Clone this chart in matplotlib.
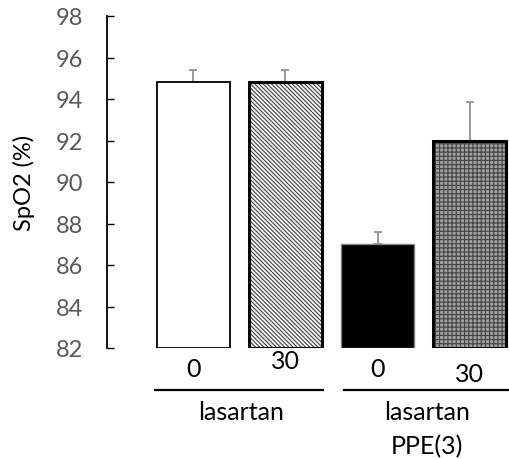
import matplotlib
matplotlib.use("Agg")
import matplotlib.pyplot as plt
import matplotlib.transforms as mtransforms

# data
doses = ["0", "30", "0", "30"]
spo2 = [94.8, 94.8, 87.0, 92.0]
spo2_err = [0.6, 0.6, 0.6, 1.85]
groups = ["lasartan", "lasartan\nPPE(3)"]
y_ticks = [82, 84, 86, 88, 90, 92, 94, 96, 98]

plt.rcParams["font.family"] = ["Lato", "DejaVu Sans"]
plt.rcParams["hatch.linewidth"] = 0.8

fig = plt.figure(figsize=(5.1, 4.6), dpi=100)
ax = fig.add_axes([107 / 510, 1 - 349 / 460, 403 / 510, 332 / 460])

x = list(range(len(spo2)))
w = 0.79
heights = [v - 82 for v in spo2]

# fills
faces = ["white", "#f4f4f4", "black", "#a0a0a0"]
hatches = [None, "\\\\\\\\\\\\\\\\", None, "++++"]
hcols = ["black", "#444444", "#7f7f7f", "#444444"]
for i in x:
    ax.bar(x[i], heights[i], w, bottom=82, color=faces[i], hatch=hatches[i],
           edgecolor=hcols[i], linewidth=0, zorder=2)

# borders
lws = [1.3, 2.2, 1.0, 2.2]
ecs = ["black", "black", "#7f7f7f", "black"]
for i in x:
    ax.bar(x[i], heights[i], w, bottom=82, fill=False, edgecolor=ecs[i],
           linewidth=lws[i], zorder=3)

ax.errorbar(x, spo2, yerr=[[0] * 4, spo2_err], fmt="none", ecolor="#9a9a9a",
            elinewidth=1.4, capsize=3, capthick=1.4, zorder=1)

ax.set_ylim(82, 98)
ax.set_xlim(-0.94, 3.44)
ax.set_yticks(y_ticks)
ax.tick_params(axis="y", direction="in", length=5, width=1, pad=17,
               labelsize=17, labelcolor="#595959")
ax.set_xticks([])
for s in ["top", "right", "bottom"]:
    ax.spines[s].set_visible(False)
ax.spines["left"].set_linewidth(1.3)
ax.set_ylabel("SpO2 (%)", fontsize=17, labelpad=15)

trans = mtransforms.blended_transform_factory(ax.transData, ax.transAxes)
dose_off = [-21, -13, -21, -26]
for i in x:
    ax.annotate(doses[i], xy=(x[i], 0), xycoords=trans, xytext=(0, dose_off[i]),
                textcoords="offset pixels", ha="center", va="center", fontsize=18)

# group underlines and labels
line_off = -42 / 332
for x0, x1 in [(-0.42, 1.41), (1.64, 3.44)]:
    ax.plot([x0, x1], [line_off, line_off], color="black", lw=1.6,
            transform=trans, clip_on=False)
for gx, g in zip([0.52, 2.54], groups):
    ax.annotate(g, xy=(gx, 0), xycoords=trans, xytext=(0, -52),
                textcoords="offset pixels", ha="center", va="top", fontsize=18,
                linespacing=1.55)

fig.savefig("out.png", dpi=100)
